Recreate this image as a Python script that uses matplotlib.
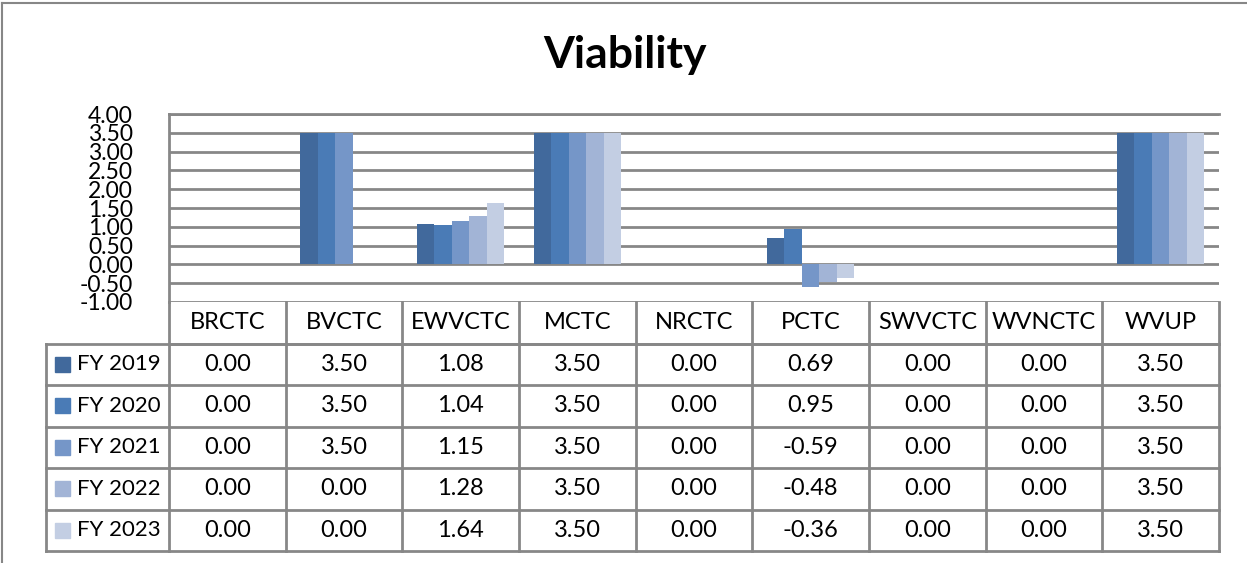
#!/usr/bin/env python3
import matplotlib
matplotlib.use('Agg')
import matplotlib.pyplot as plt
import numpy as np

# data
categories = ['BRCTC', 'BVCTC', 'EWVCTC', 'MCTC', 'NRCTC', 'PCTC', 'SWVCTC', 'WVNCTC', 'WVUP']
series_names = ['FY 2019', 'FY 2020', 'FY 2021', 'FY 2022', 'FY 2023']
fy2019 = [0.00, 3.50, 1.08, 3.50, 0.00, 0.69, 0.00, 0.00, 3.50]
fy2020 = [0.00, 3.50, 1.04, 3.50, 0.00, 0.95, 0.00, 0.00, 3.50]
fy2021 = [0.00, 3.50, 1.15, 3.50, 0.00, -0.59, 0.00, 0.00, 3.50]
fy2022 = [0.00, 0.00, 1.28, 3.50, 0.00, -0.48, 0.00, 0.00, 3.50]
fy2023 = [0.00, 0.00, 1.64, 3.50, 0.00, -0.36, 0.00, 0.00, 3.50]
series = [fy2019, fy2020, fy2021, fy2022, fy2023]
colors = ['#41699C', '#4A7BB6', '#7596C8', '#A2B4D6', '#C3CEE3']
yticks = [4.0, 3.5, 3.0, 2.5, 2.0, 1.5, 1.0, 0.5, 0.0, -0.5, -1.0]

plt.rcParams['font.family'] = ['Lato', 'DejaVu Sans']
W, H = 1247, 563
fig = plt.figure(figsize=(W / 100, H / 100), dpi=100)
grid_c = '#878787'

def px(x0, y0, x1, y1):
    # pixel box -> figure fraction
    return [x0 / W, 1 - y1 / H, (x1 - x0) / W, (y1 - y0) / H]

# outer frame (left + top visible)
fig.add_artist(plt.Line2D([2 / W, 2 / W], [0, 1 - 3 / H], color=grid_c, lw=1.5))
fig.add_artist(plt.Line2D([2 / W, 1], [1 - 3 / H, 1 - 3 / H], color=grid_c, lw=1.5))

fig.text(625 / W, 1 - 68 / H, 'Viability', ha='center', va='baseline',
         fontsize=32, fontweight='bold')

# bar chart
ax = fig.add_axes(px(169, 114, 1219, 302))
n = len(categories)
x = np.arange(n)
bw = 0.15
for i, (vals, c) in enumerate(zip(series, colors)):
    ax.bar(x + (i - 2) * bw, vals, bw, color=c, zorder=3, linewidth=0)
ax.set_xlim(-0.5, n - 0.5)
ax.set_ylim(-1.0, 4.0)
ax.set_yticks(yticks)
ax.set_yticklabels(['%.2f' % t for t in yticks], fontsize=16.5)
ax.tick_params(axis='y', length=0, pad=26)
ax.set_xticks([])
ax.grid(axis='y', color=grid_c, lw=2, zorder=1)
for s in ['right', 'bottom']:
    ax.spines[s].set_visible(False)
for s in ['left', 'top']:
    ax.spines[s].set_color(grid_c)
    ax.spines[s].set_linewidth(2)

# data table below
tx0, tx1 = 46, 1219
ty0, ty1 = 302, 551
tab = fig.add_axes(px(tx0, ty0, tx1, ty1))
colw = (1219 - 169) / n
left = -0.5 - (169 - tx0) / colw
tab.set_xlim(left, n - 0.5)
nrows = len(series) + 1
tab.set_ylim(nrows, 0)
tab.axis('off')

lk = dict(color=grid_c, lw=2, clip_on=False, solid_capstyle='projecting')
# header row
tab.plot([-0.5, -0.5], [0, 1], **lk)
for j in range(n):
    tab.plot([j + 0.5, j + 0.5], [0, 1], **lk)
    tab.text(j, 0.5, categories[j], ha='center', va='center', fontsize=17)
# horizontal lines of data rows
tab.plot([-0.5, n - 0.5], [1, 1], **lk)
for r in range(1, nrows + 1):
    tab.plot([left, n - 0.5], [r, r], **lk)
for xv in [left, -0.5] + [j + 0.5 for j in range(n)]:
    tab.plot([xv, xv], [1, nrows], **lk)

sq = 15 / colw
for i, (name, vals, c) in enumerate(zip(series_names, series, colors)):
    yc = i + 1.5
    tab.add_patch(plt.Rectangle((left + 9 / colw, yc - 0.18), sq, 0.36,
                                color=c, clip_on=False))
    tab.text(left + 31 / colw, yc, name, ha='left', va='center', fontsize=16)
    for j, v in enumerate(vals):
        tab.text(j, yc, '%.2f' % v, ha='center', va='center', fontsize=17)

fig.savefig('out.png', dpi=100)
